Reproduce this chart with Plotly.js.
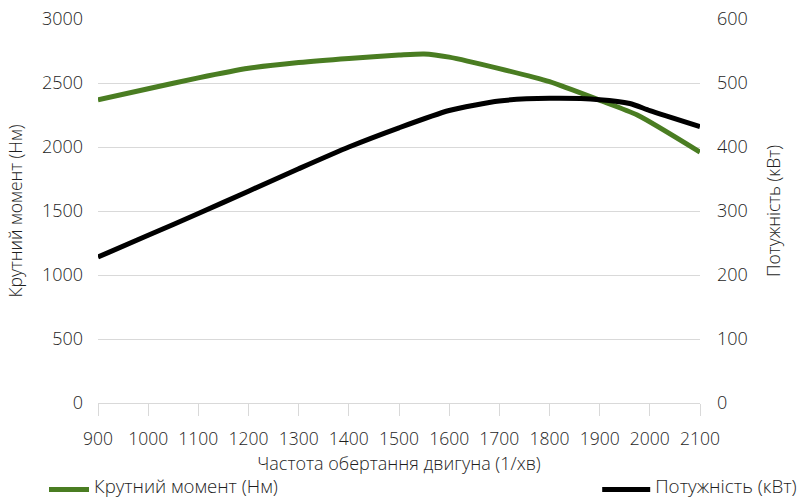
<!DOCTYPE html>
<html>
<head>
<meta charset="utf-8">
<script src="https://cdn.plot.ly/plotly-3.0.1.min.js"></script>
<style>html,body{margin:0;padding:0;background:#fff;}#chart{width:800px;height:504px;}</style>
</head>
<body>
<div id="chart"></div>
<script>
const torqueRpm = [900,1000,1100,1200,1300,1400,1500,1550,1600,1700,1800,1900,1975,2100];
const torqueNm  = [2368,2455,2540,2615,2660,2692,2718,2727,2702,2612,2510,2365,2250,1960];
const powerRpm  = [900,1000,1100,1200,1300,1400,1500,1600,1700,1800,1900,1960,2000,2100];
const powerKw   = [228,262,296,331,366,400,430,457,472,476,474,468,457,432];
const xTicks = [900,1000,1100,1200,1300,1400,1500,1600,1700,1800,1900,2000,2100];
const torqueName = "Крутний момент (Нм)";
const powerName = "Потужність (кВт)";
const xTitle = "Частота обертання двигуна (1/хв)";

const FONT = "Open Sans, Noto Sans, sans-serif";
const TXT = "#1e1e1e";
const GRID = "#d9d9d9";
const sized = (t, px) => '<span style="font-size:' + px + 'px">' + t + '</span>';

const traces = [
  {x: torqueRpm, y: torqueNm, name: sized(torqueName, 18.6), type: "scatter", mode: "lines",
   line: {color: "#4a7d22", width: 5, shape: "spline", smoothing: 0.6}, yaxis: "y", legend: "legend"},
  {x: powerRpm, y: powerKw, name: sized(powerName, 18.8), type: "scatter", mode: "lines",
   line: {color: "#000000", width: 5, shape: "spline", smoothing: 0.6}, yaxis: "y2", legend: "legend2"}
];

const layout = {
  width: 800, height: 504,
  paper_bgcolor: "#fff", plot_bgcolor: "#fff",
  margin: {l: 98, r: 100, t: 19, b: 101},
  font: {family: FONT, color: TXT, size: 18, weight: 300},
  showlegend: true,
  xaxis: {
    range: [900, 2100], tickvals: xTicks, ticktext: xTicks.map(String),
    showgrid: false, zeroline: false, showline: true, linecolor: GRID, linewidth: 1,
    ticks: "outside", ticklen: 12, tickcolor: GRID, tickwidth: 1, automargin: false,
    tickfont: {size: 17.5, weight: 300}, ticklabelstandoff: 8,
    title: {text: sized(xTitle, 18), font: {size: 20.7, weight: 300}}
  },
  yaxis: {
    range: [0, 3000], dtick: 500, showgrid: true, gridcolor: GRID, gridwidth: 1, automargin: false,
    zeroline: false, showline: false, ticks: "", tickfont: {size: 18, weight: 300}, ticklabelstandoff: 14,
    title: {text: "Крутний момент (Нм)", font: {size: 17.5, weight: 300}, standoff: 14}
  },
  yaxis2: {
    range: [0, 600], dtick: 100, overlaying: "y", side: "right", showgrid: false, automargin: false,
    zeroline: false, showline: false, ticks: "", tickfont: {size: 18, weight: 300}, ticklabelstandoff: 16,
    title: {text: "Потужність (кВт)", font: {size: 17.5, weight: 300}, standoff: 20}
  },
  legend: {
    orientation: "h", xref: "container", yref: "container", x: 0.055, y: 0, xanchor: "left", yanchor: "bottom",
    font: {size: 9, weight: 300}, bgcolor: "rgba(0,0,0,0)", itemwidth: 40
  },
  legend2: {
    orientation: "h", xref: "container", yref: "container", x: 0.7465, y: 0, xanchor: "left", yanchor: "bottom",
    font: {size: 9, weight: 300}, bgcolor: "rgba(0,0,0,0)", itemwidth: 48
  }
};

Plotly.newPlot("chart", traces, layout, {displayModeBar: false, staticPlot: true});
</script>
</body>
</html>
